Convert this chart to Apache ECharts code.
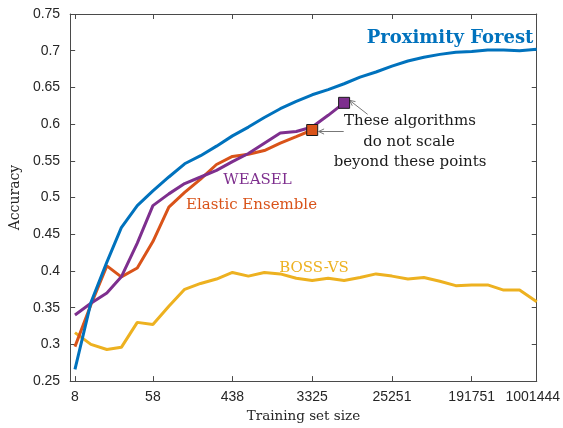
<!DOCTYPE html>
<html>
<head>
<meta charset="utf-8">
<script src="https://cdn.jsdelivr.net/npm/echarts@6/dist/echarts.min.js"></script>
<style>
html, body { margin: 0; padding: 0; background: #fff; }
#chart { width: 563px; height: 428px; }
</style>
</head>
<body>
<div id="chart"></div>
<script>
// training set sizes (log-spaced, ~x1.5 per step)
const sizes = [8, 12, 18, 26, 39, 58, 87, 130, 195, 292,
    438, 657, 985, 1478, 2217, 3325, 4988, 7482, 11223, 16834,
    25251, 37877, 56815, 85223, 127834, 191751, 287627, 431440, 647160, 1001444]
const tickLabels = [8, 58, 438, 3325, 25251, 191751, 1001444]
const yTicks = [0.25, 0.75, 0.05]

const proximityForest = [0.266, 0.357, 0.412, 0.459, 0.489, 0.509, 0.528, 0.546, 0.557, 0.570,
    0.584, 0.596, 0.609, 0.621, 0.631, 0.640, 0.647, 0.655, 0.664, 0.671,
    0.679, 0.686, 0.691, 0.695, 0.698, 0.699, 0.701, 0.701, 0.700, 0.702]
const elasticEnsemble = [0.297, 0.354, 0.407, 0.392, 0.404, 0.440, 0.487, 0.507, 0.525, 0.545,
    0.556, 0.559, 0.564, 0.574, 0.583, 0.592]
const weasel = [0.340, 0.356, 0.370, 0.392, 0.438, 0.489, 0.505, 0.519, 0.528, 0.537,
    0.549, 0.560, 0.574, 0.588, 0.590, 0.596, 0.612, 0.629]
const bossVs = [0.316, 0.300, 0.293, 0.296, 0.330, 0.327, 0.352, 0.375, 0.383, 0.389,
    0.398, 0.393, 0.398, 0.396, 0.390, 0.387, 0.390, 0.387, 0.391, 0.396,
    0.393, 0.389, 0.391, 0.386, 0.380, 0.381, 0.381, 0.374, 0.374, 0.358]

const colors = {
    pf: '#0072BD',
    ee: '#D95319',
    boss: '#EDB120',
    weasel: '#7E2F8E'
}
const axisColor = '#4a4a4a'
const textColor = '#262626'
const serif = '"DejaVu Serif", serif'

const toPairs = vals => vals.map((v, i) => [Math.log10(sizes[i]), v])
const tickPos = tickLabels.map(v => Math.log10(v))
const xMin = 0.85
const xMax = Math.log10(sizes[sizes.length - 1])

const lineSeries = (name, vals, color) => ({
    name: name,
    type: 'line',
    data: toPairs(vals),
    symbol: 'none',
    lineStyle: { width: 3, color: color },
    z: 3
})

const endMarker = (vals, color) => ({
    type: 'scatter',
    data: [toPairs(vals)[vals.length - 1]],
    symbol: 'rect',
    symbolSize: 11,
    itemStyle: { color: color, borderColor: '#1a1a1a', borderWidth: 1, opacity: 1 },
    z: 5
})

const xAxisBase = (position, showLabel) => ({
    type: 'value',
    position: position,
    min: xMin,
    max: xMax,
    axisLine: { show: true, lineStyle: { color: axisColor, width: 1 } },
    axisTick: { show: true, inside: true, length: 5, customValues: tickPos, lineStyle: { color: axisColor } },
    axisLabel: {
        show: showLabel,
        customValues: tickPos,
        margin: 9,
        color: textColor,
        fontSize: 14,
        fontFamily: '"Liberation Sans", Arial, sans-serif',
        formatter: v => {
            const n = Math.round(Math.pow(10, v))
            return n === tickLabels[tickLabels.length - 1] ? '{last|' + n + '}' : String(n)
        },
        rich: { last: { fontSize: 14, color: textColor, fontFamily: '"Liberation Sans", Arial, sans-serif', padding: [0, 8, 0, 0] } }
    },
    splitLine: { show: false }
})

const yAxisBase = (position, showLabel) => ({
    type: 'value',
    position: position,
    min: yTicks[0],
    max: yTicks[1],
    interval: yTicks[2],
    axisLine: { show: true, lineStyle: { color: axisColor, width: 1 } },
    axisTick: { show: true, inside: true, length: 5, lineStyle: { color: axisColor } },
    axisLabel: {
        show: showLabel,
        margin: 10,
        color: textColor,
        fontSize: 14,
        fontFamily: '"Liberation Sans", Arial, sans-serif',
        formatter: v => String(+v.toFixed(2))
    },
    splitLine: { show: false }
})

const textEl = (text, x, y, font, color) => ({
    type: 'text',
    silent: true,
    style: {
        text: text, x: x, y: y, font: font, fill: color,
        textAlign: 'center', textVerticalAlign: 'middle',
        align: 'center', verticalAlign: 'middle'
    }
})

const chart = echarts.init(document.getElementById('chart'))
chart.setOption({
    animation: false,
    grid: { left: 68.5, right: 24.3, top: 14, bottom: 42 },
    xAxis: [
        Object.assign(xAxisBase('bottom', true), {
            name: 'Training set size',
            nameLocation: 'middle',
            nameGap: 26,
            nameTextStyle: { fontFamily: serif, fontSize: 13.5, color: textColor }
        }),
        xAxisBase('top', false)
    ],
    yAxis: [
        Object.assign(yAxisBase('left', true), {
            name: 'Accuracy',
            nameLocation: 'middle',
            nameGap: 46,
            nameTextStyle: { fontFamily: serif, fontSize: 14, color: textColor }
        }),
        yAxisBase('right', false)
    ],
    series: [
        lineSeries('BOSS-VS', bossVs, colors.boss),
        lineSeries('Elastic Ensemble', elasticEnsemble, colors.ee),
        lineSeries('WEASEL', weasel, colors.weasel),
        lineSeries('Proximity Forest', proximityForest, colors.pf),
        endMarker(elasticEnsemble, colors.ee),
        endMarker(weasel, colors.weasel)
    ]
})

// annotations: arrows anchored to the end markers
const endPx = vals => chart.convertToPixel({ gridIndex: 0 }, toPairs(vals)[vals.length - 1])
const arrow = (tail, head) => {
    const ang = Math.atan2(head[1] - tail[1], head[0] - tail[0])
    const len = 6, spread = 0.45
    const a1 = [head[0] - len * Math.cos(ang - spread), head[1] - len * Math.sin(ang - spread)]
    const a2 = [head[0] - len * Math.cos(ang + spread), head[1] - len * Math.sin(ang + spread)]
    return [
        { type: 'line', silent: true, shape: { x1: tail[0], y1: tail[1], x2: head[0], y2: head[1] }, style: { stroke: '#777', lineWidth: 1 } },
        { type: 'polyline', silent: true, shape: { points: [a1, head, a2] }, style: { stroke: '#777', lineWidth: 1, fill: null } }
    ]
}
const wPx = endPx(weasel)
const ePx = endPx(elasticEnsemble)

chart.setOption({
    graphic: [
        textEl('Proximity Forest', 450, 38, 'bold 18px ' + serif, colors.pf),
        textEl('WEASEL', 257.5, 180, '15px ' + serif, colors.weasel),
        textEl('Elastic Ensemble', 251.5, 205, '15px ' + serif, colors.ee),
        textEl('BOSS-VS', 314, 268.5, '15px ' + serif, colors.boss),
        textEl('These algorithms', 410, 121.5, '15px ' + serif, '#1a1a1a'),
        textEl('do not scale', 409, 142, '15px ' + serif, '#1a1a1a'),
        textEl('beyond these points', 410, 162, '15px ' + serif, '#1a1a1a')
    ].concat(
        arrow([wPx[0] + 23.5, wPx[1] + 11.5], [wPx[0] + 5.5, wPx[1] - 2.5]),
        arrow([ePx[0] + 31.5, ePx[1] + 1.5], [ePx[0] + 6.5, ePx[1] + 1.5])
    )
})
</script>
</body>
</html>
